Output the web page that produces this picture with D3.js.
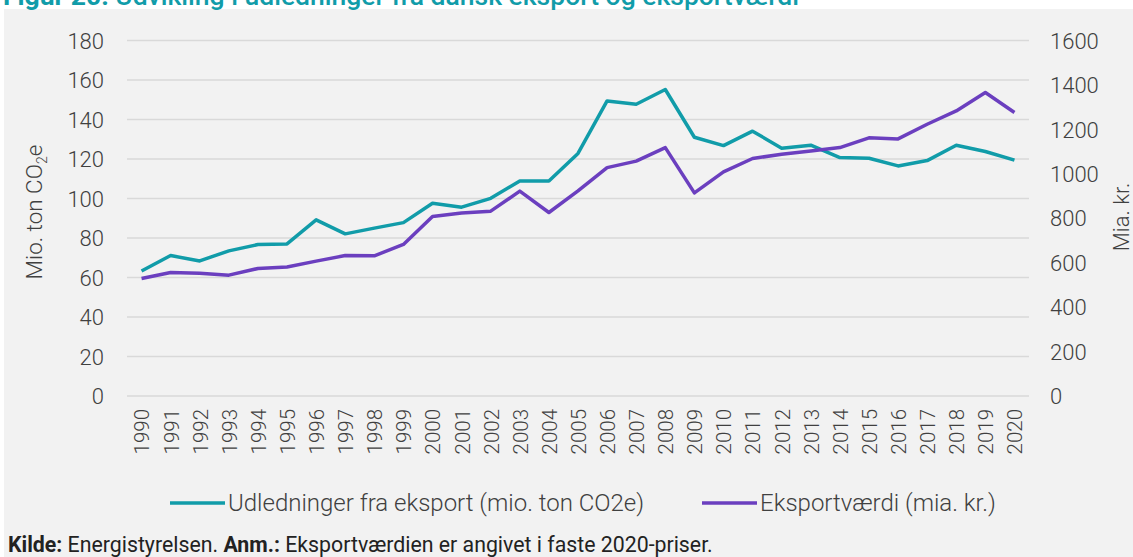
<!DOCTYPE html>
<html>
<head>
<meta charset="utf-8">
<script src="https://cdn.jsdelivr.net/npm/d3@7"></script>
<style>
  body { margin: 0; background: #fff; }
  text { font-family: Roboto, "Noto Sans", sans-serif; }
</style>
</head>
<body>
<div class="canvas"></div>
<script>
// data
const years = d3.range(1990, 2021).map(String);
const udledninger = [63.3, 71.1, 68.4, 73.5, 76.7, 77.0, 89.2, 82.1, 85.0, 87.8, 97.6, 95.6, 100.1, 108.9, 108.9,
  122.8, 149.4, 147.7, 155.2, 131.0, 126.8, 134.1, 125.5, 127.0, 120.7, 120.4, 116.5, 119.2, 127.0, 123.8, 119.4];
const eksportvaerdi = [529, 556, 553, 544, 574, 581, 607, 632, 631, 682, 808, 824, 832, 922, 826,
  923, 1028, 1057, 1118, 914, 1009, 1069, 1088, 1103, 1118, 1162, 1157, 1223, 1283, 1366, 1276];
const leftTicks = d3.range(0, 181, 20);
const rightTicks = d3.range(0, 1601, 200);

const teal = "#119ca9";
const purple = "#6b3fbf";

const width = 1133, height = 557;
const margin = { top: 40.5, right: 104, bottom: 161, left: 127 };
const graphWidth = width - margin.left - margin.right;
const graphHeight = height - margin.top - margin.bottom;

const svg = d3.select(".canvas").append("svg")
  .attr("width", width)
  .attr("height", height);

// background panel
svg.append("rect")
  .attr("x", 4).attr("y", 9)
  .attr("width", width - 4).attr("height", height - 9)
  .attr("fill", "#f2f2f2");

// title (cut off at top, as in the source)
svg.append("text")
  .attr("x", 3).attr("y", 5)
  .attr("fill", teal)
  .attr("font-size", 26.5)
  .attr("font-weight", 500)
  .html('<tspan font-weight="700">Figur 20:</tspan> Udvikling i udledninger fra dansk eksport og eksportværdi');

const graph = svg.append("g")
  .attr("transform", `translate(${margin.left}, ${margin.top})`);

// scales
const x = d3.scalePoint().domain(years).range([0, graphWidth]).padding(0.5);
const yL = d3.scaleLinear().domain([0, 180]).range([graphHeight, 0]);
const yR = d3.scaleLinear().domain([0, 1600]).range([graphHeight, 0]);

// gridlines
graph.append("g")
  .selectAll("line")
  .data(leftTicks)
  .join("line")
  .attr("x1", 0).attr("x2", graphWidth)
  .attr("y1", d => yL(d)).attr("y2", d => yL(d))
  .attr("stroke", "#d9d9d9")
  .attr("stroke-width", 1.3);

// axes
const yAxisL = graph.append("g")
  .call(d3.axisLeft(yL).tickValues(leftTicks).tickSize(0).tickPadding(23));
const yAxisR = graph.append("g")
  .attr("transform", `translate(${graphWidth}, 0)`)
  .call(d3.axisRight(yR).tickValues(rightTicks).tickSize(0).tickPadding(21).tickFormat(d3.format("d")));
const xAxis = graph.append("g")
  .attr("transform", `translate(0, ${graphHeight})`)
  .call(d3.axisBottom(x).tickSize(0));

[yAxisL, yAxisR, xAxis].forEach(g => {
  g.select(".domain").remove();
  g.selectAll("text")
    .attr("fill", "#404040")
    .style("font-family", "Roboto, sans-serif")
    .style("font-weight", 300);
});
yAxisL.selectAll("text").attr("font-size", 22).attr("dy", "0.35em");
yAxisR.selectAll("text").attr("font-size", 22).attr("dy", "0.35em");
xAxis.selectAll("text")
  .attr("font-size", 20.5)
  .attr("transform", "rotate(-90)")
  .attr("text-anchor", "end")
  .attr("x", -13)
  .attr("y", 0)
  .attr("dy", "0.36em");

// axis titles
svg.append("text")
  .attr("transform", "translate(42, 212) rotate(-90)")
  .attr("text-anchor", "middle")
  .attr("font-size", 22.5).attr("font-weight", 300).attr("fill", "#404040")
  .html('Mio. ton CO<tspan font-size="14" dy="5">2</tspan><tspan dy="-5">e</tspan>');
svg.append("text")
  .attr("transform", "translate(1129, 217) rotate(-90)")
  .attr("text-anchor", "middle")
  .attr("font-size", 22).attr("font-weight", 300).attr("fill", "#404040")
  .text("Mia. kr.");

// lines
const lineL = d3.line().x((d, i) => x(years[i])).y(d => yL(d));
const lineR = d3.line().x((d, i) => x(years[i])).y(d => yR(d));

graph.append("path")
  .datum(udledninger)
  .attr("fill", "none")
  .attr("stroke", teal)
  .attr("stroke-width", 3.5)
  .attr("stroke-linejoin", "round")
  .attr("d", lineL);

graph.append("path")
  .datum(eksportvaerdi)
  .attr("fill", "none")
  .attr("stroke", purple)
  .attr("stroke-width", 3.5)
  .attr("stroke-linejoin", "round")
  .attr("d", lineR);

// legend
const legendItems = [
  { label: "Udledninger fra eksport (mio. ton CO2e)", color: teal, x: 170 },
  { label: "Eksportværdi (mia. kr.)", color: purple, x: 702 }
];
const legend = svg.append("g");
legendItems.forEach(item => {
  legend.append("line")
    .attr("x1", item.x).attr("x2", item.x + 55)
    .attr("y1", 503).attr("y2", 503)
    .attr("stroke", item.color)
    .attr("stroke-width", 3.5);
  legend.append("text")
    .attr("x", item.x + 58).attr("y", 511)
    .attr("font-size", 24).attr("font-weight", 300).attr("fill", "#404040")
    .text(item.label);
});

// source note
svg.append("text")
  .attr("x", 8).attr("y", 552)
  .attr("font-size", 21.3).attr("fill", "#222")
  .html('<tspan font-weight="700">Kilde:</tspan> Energistyrelsen. <tspan font-weight="700">Anm.:</tspan> Eksportværdien er angivet i faste 2020-priser.');
</script>
</body>
</html>
